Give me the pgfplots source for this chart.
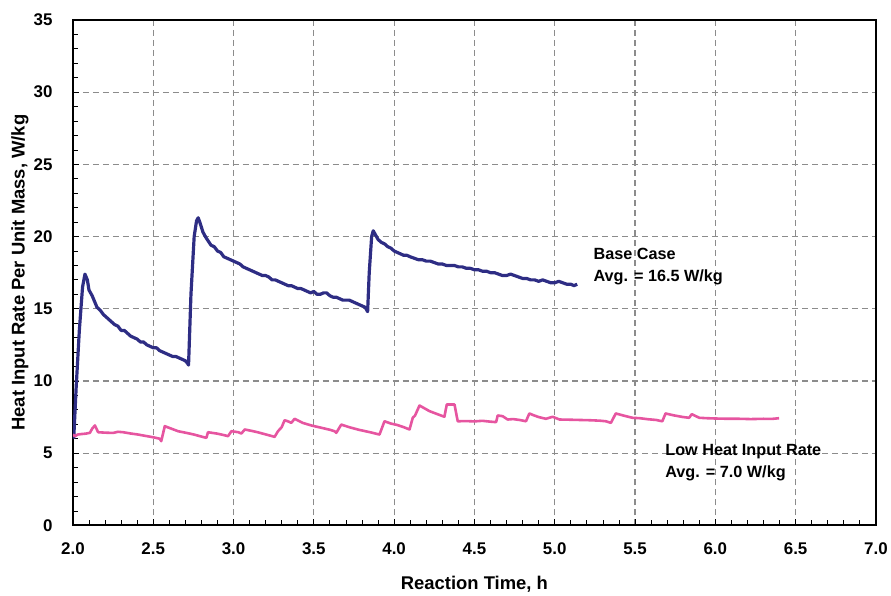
\documentclass[border=0pt]{standalone}
\usepackage{pgfplots}
\pgfplotsset{compat=1.18}
\usepackage{fontspec}
\setmainfont{Liberation Sans}
\definecolor{basecol}{HTML}{2E2D84}
\definecolor{lowcol}{HTML}{E655A0}
\begin{document}
\begin{tikzpicture}
\begin{axis}[
  width=804bp, height=506bp, scale only axis,
  xmin=2, xmax=7, ymin=0, ymax=35,
  xtick={2,2.5,...,7}, ytick={0,5,...,35},
  minor x tick num=4, minor y tick num=4,
  xtick pos=left, ytick pos=left,
  tick align=inside,
  major tick length=6bp, minor tick length=5bp,
  tick style={black, line width=0.8bp},
  axis line style={line width=2.2bp},
  grid=major,
  major grid style={gray!90, dash pattern=on 6bp off 4bp, line width=1.1bp},
  /pgf/number format/assume math mode=true,
  xticklabel style={/pgf/number format/fixed, /pgf/number format/fixed zerofill, /pgf/number format/precision=1, yshift=-14bp},
  ticklabel style={font=\bfseries\fontsize{17}{17}\selectfont},
  yticklabel style={xshift=-17bp},
  xlabel={Reaction Time, h},
  ylabel={Heat Input Rate Per Unit Mass, W/kg},
  label style={font=\bfseries\fontsize{18.5}{18.5}\selectfont},
  xlabel style={at={(axis description cs:0.5,-0.1166)}, anchor=center},
  ylabel style={at={(axis description cs:-0.0659,0.5)}, anchor=center},
]
\addplot[basecol, line width=3.2bp, line join=round] coordinates {
(2.005,6.0) (2.02,9.5) (2.04,13.5) (2.06,16.5) (2.075,17.4) (2.09,17.0)
(2.10,16.3) (2.12,15.9) (2.15,15.1) (2.17,14.9) (2.19,14.6) (2.22,14.3)
(2.24,14.1) (2.26,13.9) (2.28,13.8) (2.30,13.5) (2.32,13.5) (2.34,13.3)
(2.36,13.1) (2.38,13.0) (2.40,12.9) (2.42,12.7) (2.44,12.7) (2.46,12.5)
(2.48,12.4) (2.50,12.3) (2.52,12.3) (2.54,12.1) (2.56,12.0) (2.58,11.9)
(2.60,11.8) (2.62,11.7) (2.64,11.7) (2.66,11.6) (2.68,11.5) (2.70,11.4)
(2.715,11.2) (2.72,11.1) (2.735,16.0) (2.755,20.0) (2.77,21.1) (2.78,21.3)
(2.79,21.0) (2.81,20.3) (2.83,19.9) (2.86,19.4) (2.88,19.3) (2.90,19.0)
(2.92,18.9) (2.94,18.6) (2.96,18.5) (2.98,18.4) (3.00,18.3) (3.02,18.2)
(3.04,18.1) (3.06,17.9) (3.08,17.8) (3.10,17.7) (3.12,17.6) (3.14,17.5)
(3.16,17.4) (3.18,17.3) (3.20,17.3) (3.22,17.2) (3.24,17.0) (3.26,17.0)
(3.28,16.9) (3.30,16.8) (3.32,16.7) (3.34,16.6) (3.36,16.6) (3.38,16.5)
(3.40,16.4) (3.42,16.4) (3.44,16.3) (3.46,16.2) (3.48,16.1) (3.50,16.2)
(3.52,16.0) (3.54,16.0) (3.56,16.1) (3.58,16.1) (3.60,15.9) (3.62,15.8)
(3.64,15.8) (3.66,15.7) (3.68,15.6) (3.70,15.6) (3.72,15.6) (3.74,15.5)
(3.76,15.4) (3.78,15.3) (3.80,15.2) (3.82,15.1) (3.835,14.8) (3.845,17.5)
(3.86,20.0) (3.87,20.4) (3.88,20.2) (3.90,19.8) (3.92,19.6) (3.94,19.5)
(3.96,19.3) (3.98,19.2) (4.00,19.0) (4.02,18.9) (4.04,18.8) (4.06,18.7)
(4.08,18.7) (4.10,18.6) (4.125,18.5) (4.15,18.4) (4.175,18.4) (4.20,18.3)
(4.225,18.3) (4.25,18.2) (4.275,18.1) (4.30,18.1) (4.325,18.0) (4.35,18.0)
(4.375,18.0) (4.40,17.9) (4.425,17.9) (4.45,17.8) (4.475,17.8) (4.50,17.7)
(4.525,17.7) (4.55,17.6) (4.575,17.6) (4.60,17.5) (4.625,17.5) (4.65,17.4)
(4.675,17.3) (4.70,17.3) (4.725,17.4) (4.75,17.3) (4.775,17.2) (4.80,17.1)
(4.825,17.1) (4.85,17.0) (4.875,17.0) (4.90,16.9) (4.925,17.0) (4.95,16.9)
(4.975,16.8) (5.00,16.8) (5.025,16.9) (5.05,16.8) (5.075,16.7) (5.10,16.7)
(5.12,16.6) (5.14,16.7)
};
\addplot[lowcol, line width=2.6bp, line join=round] coordinates {
(2.00,6.3) (2.012,6.17) (2.03,6.29) (2.05,6.32) (2.08,6.35) (2.106,6.41)
(2.12,6.7) (2.137,6.92) (2.157,6.45) (2.20,6.42) (2.25,6.4) (2.28,6.48)
(2.313,6.45) (2.36,6.36) (2.40,6.3) (2.45,6.2) (2.50,6.1) (2.541,6.0)
(2.55,5.83) (2.572,6.87) (2.60,6.75) (2.655,6.52) (2.70,6.42) (2.75,6.3)
(2.80,6.15) (2.831,6.06) (2.841,6.45) (2.90,6.35) (2.94,6.25) (2.966,6.18)
(2.987,6.52) (3.03,6.45) (3.049,6.36) (3.07,6.64) (3.11,6.55) (3.15,6.45)
(3.20,6.3) (3.256,6.13) (3.277,6.52) (3.30,6.8) (3.318,7.28) (3.34,7.2)
(3.36,7.10) (3.38,7.38) (3.43,7.1) (3.484,6.92) (3.55,6.75) (3.60,6.62)
(3.629,6.52) (3.64,6.41) (3.671,6.98) (3.72,6.8) (3.78,6.62) (3.85,6.45)
(3.909,6.29) (3.94,7.21) (3.98,7.05) (4.02,6.95) (4.06,6.8) (4.096,6.64)
(4.116,7.45) (4.13,7.6) (4.158,8.30) (4.19,8.1) (4.22,7.91) (4.27,7.7)
(4.313,7.52) (4.328,8.37) (4.376,8.37) (4.396,7.21) (4.45,7.22) (4.50,7.2)
(4.55,7.24) (4.60,7.18) (4.635,7.15) (4.645,7.61) (4.676,7.56) (4.707,7.33)
(4.74,7.36) (4.78,7.3) (4.821,7.21) (4.842,7.75) (4.87,7.62) (4.90,7.5)
(4.945,7.38) (4.987,7.52) (5.03,7.33) (5.08,7.32) (5.15,7.3) (5.22,7.28)
(5.28,7.25) (5.318,7.21) (5.35,7.10) (5.38,7.75) (5.43,7.6) (5.484,7.45)
(5.53,7.42) (5.58,7.35) (5.63,7.3) (5.67,7.21) (5.69,7.75) (5.74,7.62)
(5.80,7.5) (5.837,7.45) (5.853,7.70) (5.90,7.45) (5.95,7.42) (6.00,7.4)
(6.08,7.38) (6.15,7.38) (6.22,7.36) (6.30,7.38) (6.35,7.37) (6.397,7.42)
};
\node[anchor=west, align=left, font=\bfseries\fontsize{16.3}{22}\selectfont]
  at (axis cs:5.22,17.9) {Base Case\\Avg. = 16.5 W/kg};
\node[anchor=west, align=left, font=\bfseries\fontsize{16.3}{22}\selectfont]
  at (axis cs:5.667,4.36) {Low Heat Input Rate\\Avg. = 7.0 W/kg};
\end{axis}
\path (current axis.south west) ++(-73bp,-68bp) rectangle ++(891bp,594bp);
\end{tikzpicture}
\end{document}
